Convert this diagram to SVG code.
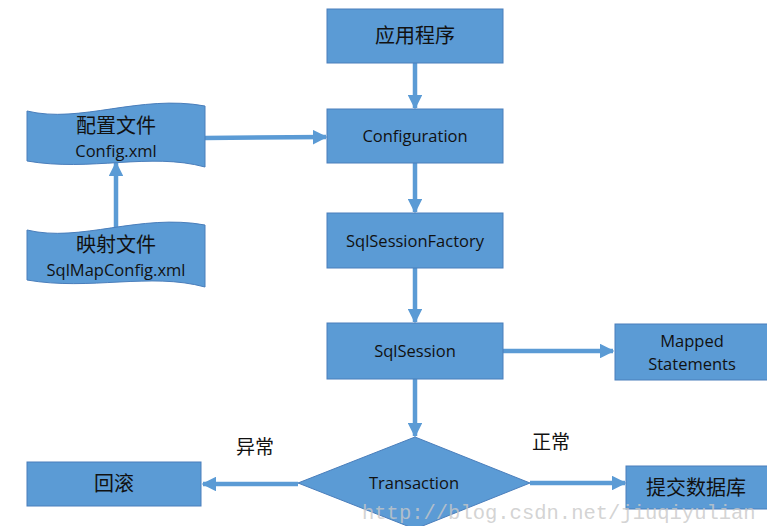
<svg xmlns="http://www.w3.org/2000/svg" width="767" height="526" viewBox="0 0 767 526">
<defs>
<marker id="ah" viewBox="0 0 10 10" refX="9" refY="5" markerWidth="3.3" markerHeight="3.3" orient="auto" markerUnits="strokeWidth">
<path d="M0,0 L10,5 L0,10 z" fill="#5B9BD5"/>
</marker>
<style>
.box{fill:#5B9BD5;stroke:#4A7EBB;stroke-width:1}
.en{font-family:"Open Sans","Noto Sans",sans-serif;font-size:16.5px;font-weight:500;fill:#111;text-anchor:middle}
.zh{font-family:"Noto Sans CJK SC",sans-serif;font-size:20px;fill:#111;text-anchor:middle}
.lbl{font-family:"Noto Sans CJK SC",sans-serif;font-size:19px;fill:#111;text-anchor:middle}
.c{stroke:#5B9BD5;stroke-width:4.5;fill:none;marker-end:url(#ah)}
</style>
</defs>
<rect width="767" height="526" fill="#ffffff"/>
<g id="connectors">
<line class="c" x1="415" y1="63" x2="415" y2="108"/>
<line class="c" x1="415" y1="163" x2="415" y2="212"/>
<line class="c" x1="415" y1="268" x2="415" y2="322"/>
<line class="c" x1="415" y1="379" x2="415" y2="436"/>
<line class="c" x1="205" y1="138" x2="326" y2="137"/>
<line class="c" x1="116" y1="230" x2="116" y2="163"/>
<line class="c" x1="503" y1="351" x2="613" y2="351"/>
<line class="c" x1="530" y1="483" x2="625" y2="483"/>
<line class="c" x1="298" y1="484" x2="203" y2="484"/>
</g>
<g id="app"><rect class="box" x="327" y="9" width="176" height="54"/><text class="zh" x="415" y="43">应用程序</text></g>
<g id="configuration"><rect class="box" x="327" y="109" width="176" height="54"/><text class="en" x="415" y="142">Configuration</text></g>
<g id="factory"><rect class="box" x="327" y="213" width="176" height="55"/><text class="en" x="415" y="247">SqlSessionFactory</text></g>
<g id="session"><rect class="box" x="327" y="323" width="176" height="56"/><text class="en" x="415" y="357">SqlSession</text></g>
<g id="mapped"><rect class="box" x="615" y="324" width="160" height="56"/><text class="en" x="692" y="347">Mapped</text><text class="en" x="692" y="370">Statements</text></g>
<g id="transaction"><polygon class="box" points="415,437 530,483 415,529 298,483"/><text class="en" x="414" y="489">Transaction</text></g>
<g id="commit"><rect class="box" x="626" y="466" width="150" height="43"/><text class="zh" x="696" y="495">提交数据库</text></g>
<g id="rollback"><rect class="box" x="27" y="462" width="174" height="44"/><text class="zh" x="114" y="491">回滚</text></g>
<g id="configxml"><path class="box" d="M27,111 C80,124 140,94 205,106 L205,167 C150,152 90,172 27,161 Z"/><text class="zh" x="116" y="133">配置文件</text><text class="en" x="116" y="157">Config.xml</text></g>
<g id="sqlmap"><path class="box" d="M27,230 C80,243 140,213 205,225 L205,287 C150,272 90,291 27,280 Z"/><text class="zh" x="116" y="252">映射文件</text><text class="en" x="116" y="276">SqlMapConfig.xml</text></g>
<g id="labels"><text class="lbl" x="255" y="454">异常</text><text class="lbl" x="551" y="449">正常</text></g>
<text x="362" y="519" font-family="Liberation Mono, monospace" font-size="20.5" fill="#c8c8c8" fill-opacity="0.8">http://blog.csdn.net/jiuqiyulian</text>
</svg>
